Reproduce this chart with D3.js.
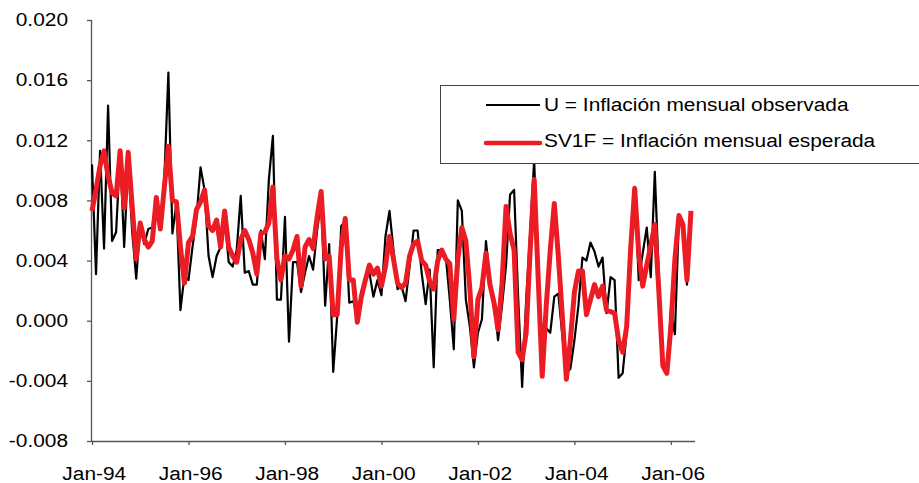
<!DOCTYPE html>
<html>
<head>
<meta charset="utf-8">
<script src="https://cdn.jsdelivr.net/npm/d3@7"></script>
<style>
  body { margin: 0; background: #fff; }
  svg { display: block; font-family: Arial, "Liberation Sans", sans-serif; }
</style>
</head>
<body>
<div id="chart-container"></div>
<script>
// monthly inflation, Jan-94 .. Jun-06
const observed = [
  0.0104, 0.0031, 0.0113, 0.0048, 0.0143, 0.0053, 0.0059, 0.0112, 0.0049, 0.0105, 0.0059, 0.0028,
  0.0065, 0.0051, 0.0061, 0.0062, 0.0080, 0.0063, 0.0095, 0.0165, 0.0058, 0.0078, 0.0007, 0.0030,
  0.0027, 0.0049, 0.0069, 0.0102, 0.0087, 0.0043, 0.0029, 0.0043, 0.0049, 0.0069, 0.0039, 0.0036,
  0.0047, 0.0083, 0.0032, 0.0033, 0.0024, 0.0024, 0.0060, 0.0041, 0.0094, 0.0123, 0.0014, 0.0014,
  0.0069, -0.0014, 0.0039, 0.0039, 0.0019, 0.0032, 0.0043, 0.0034, 0.0060, 0.0080, 0.0010, 0.0051,
  -0.0034, 0.0003, 0.0063, 0.0066, 0.0012, 0.0013, 0.0003, 0.0019, 0.0029, 0.0032, 0.0016, 0.0027,
  0.0017, 0.0056, 0.0073, 0.0047, 0.0021, 0.0023, 0.0013, 0.0036, 0.0060, 0.0060, 0.0032, 0.0011,
  0.0034, -0.0031, 0.0047, 0.0047, 0.0043, 0.0014, -0.0019, 0.0080, 0.0073, 0.0014, -0.0004, -0.0031,
  -0.0008, 0.0001, 0.0053, 0.0027, 0.0014, -0.0013, 0.0010, 0.0037, 0.0084, 0.0087, 0.0016, -0.0044,
  0.0014, 0.0059, 0.0107, 0.0020, -0.0030, -0.0005, -0.0008, 0.0016, 0.0018, -0.0010, -0.0035, -0.0032,
  -0.0013, 0.0010, 0.0042, 0.0040, 0.0052, 0.0046, 0.0036, 0.0042, 0.0005, 0.0029, 0.0027, -0.0038,
  -0.0035, -0.0008, 0.0041, 0.0089, 0.0027, 0.0045, 0.0062, 0.0029, 0.0099, 0.0030, -0.0025, -0.0035,
  0.0007, -0.0009, 0.0069, 0.0063, 0.0024, 0.0072
];

const expected = [
  0.0073, 0.0087, 0.0103, 0.0113, 0.0096, 0.0085, 0.0083, 0.0113, 0.0075, 0.0112, 0.0076, 0.0041,
  0.0065, 0.0054, 0.0049, 0.0053, 0.0082, 0.0061, 0.0089, 0.0116, 0.0080, 0.0079, 0.0049, 0.0025,
  0.0052, 0.0056, 0.0074, 0.0079, 0.0087, 0.0063, 0.0060, 0.0067, 0.0049, 0.0073, 0.0049, 0.0043,
  0.0039, 0.0054, 0.0060, 0.0054, 0.0045, 0.0031, 0.0058, 0.0059, 0.0065, 0.0089, 0.0041, 0.0027,
  0.0043, 0.0041, 0.0047, 0.0056, 0.0023, 0.0049, 0.0054, 0.0048, 0.0069, 0.0086, 0.0041, 0.0043,
  0.0004, 0.0004, 0.0049, 0.0068, 0.0027, 0.0027, -0.0001, 0.0016, 0.0027, 0.0037, 0.0031, 0.0035,
  0.0023, 0.0036, 0.0056, 0.0041, 0.0025, 0.0022, 0.0025, 0.0043, 0.0051, 0.0053, 0.0040, 0.0037,
  0.0026, 0.0021, 0.0040, 0.0047, 0.0041, 0.0038, 0.0001, 0.0041, 0.0062, 0.0053, 0.0021, -0.0024,
  0.0014, 0.0022, 0.0045, 0.0024, 0.0012, -0.0006, 0.0025, 0.0076, 0.0058, 0.0047, -0.0021, -0.0026,
  -0.0008, 0.0047, 0.0094, 0.0028, -0.0037, 0.0010, 0.0047, 0.0078, 0.0043, 0.0003, -0.0039, -0.0013,
  0.0019, 0.0033, 0.0033, 0.0004, 0.0014, 0.0024, 0.0016, 0.0023, 0.0007, 0.0006, 0.0005, -0.0013,
  -0.0021, -0.0004, 0.0048, 0.0088, 0.0045, 0.0023, 0.0037, 0.0050, 0.0064, 0.0020, -0.0030, -0.0035,
  -0.0004, 0.0041, 0.0070, 0.0064, 0.0027, 0.0073
];

const xTickLabels = ["Jan-94", "Jan-96", "Jan-98", "Jan-00", "Jan-02", "Jan-04", "Jan-06"];
const yTicks = [-0.008, -0.004, 0.000, 0.004, 0.008, 0.012, 0.016, 0.020];
const seriesNames = ["U = Inflación mensual observada", "SV1F = Inflación mensual esperada"];

const conf = {
  width: 919,
  height: 483,
  left: 92,
  right: 695,
  top: 20,
  bottom: 441,
  axisColor: "#555",
  fontSize: 18,
  stretch: 1.16, // the original text is a bit wider than Arial
  colors: ["#000000", "#ec1c24"],
  strokes: [2.2, 5]
};

const svg = d3.select("#chart-container")
  .append("svg")
  .attr("width", conf.width)
  .attr("height", conf.height);

const x = d3.scaleLinear()
  .domain([0, 150])
  .range([conf.left, conf.right]);

const y = d3.scaleLinear()
  .domain([-0.008, 0.020])
  .range([conf.bottom, conf.top]);

const fmt = d => d3.format(".3f")(d).replace("\u2212", "-");

// y axis
const yAxis = svg.append("g")
  .attr("transform", `translate(${conf.left},0)`)
  .call(d3.axisLeft(y).tickValues(yTicks).tickFormat(fmt).tickSize(5).tickPadding(15.7));

// x axis
const xAxis = svg.append("g")
  .attr("transform", `translate(0,${conf.bottom})`)
  .call(d3.axisBottom(x)
    .tickValues(xTickLabels.map((d, i) => i * 24))
    .tickFormat((d, i) => xTickLabels[i])
    .tickSize(4)
    .tickPadding(22));

[xAxis, yAxis].forEach(ax => {
  ax.select(".domain").attr("stroke", conf.axisColor).attr("stroke-width", 1.3);
  ax.selectAll(".tick line").attr("stroke", conf.axisColor).attr("stroke-width", 1.3);
  ax.selectAll(".tick text")
    .attr("fill", "#000")
    .attr("transform", `scale(${conf.stretch},1)`)
    .style("font-size", conf.fontSize + "px")
    .style("font-family", "Arial, 'Liberation Sans', sans-serif");
});
xAxis.selectAll(".tick text").attr("dx", 1.5);
xAxis.select(".domain").attr("d", `M${conf.left},0.5H${conf.right}`);
yAxis.select(".domain").attr("d", `M-0.5,${conf.top}V${conf.bottom}`);

const line = d3.line()
  .x((d, i) => x(i))
  .y(d => y(d));

[observed, expected].forEach((values, k) => {
  svg.append("path")
    .datum(values)
    .attr("fill", "none")
    .attr("stroke", conf.colors[k])
    .attr("stroke-width", conf.strokes[k])
    .attr("stroke-linejoin", "round")
    .attr("d", line);
});

// legend
const legend = svg.append("g").attr("transform", "translate(440,85)");
legend.append("rect")
  .attr("x", 0.5)
  .attr("y", 0.5)
  .attr("width", 490)
  .attr("height", 78)
  .attr("fill", "#fff")
  .attr("stroke", "#444")
  .attr("stroke-width", 1);

seriesNames.forEach((name, k) => {
  const ly = 20 + k * 38;
  legend.append("line")
    .attr("x1", 46).attr("x2", 100)
    .attr("y1", ly).attr("y2", ly)
    .attr("stroke", conf.colors[k])
    .attr("stroke-width", k ? 4.5 : 2.2)
    .attr("stroke-linecap", k ? "round" : "butt");
  legend.append("text")
    .attr("transform", `translate(104,${25.7 + k * 36.6}) scale(${conf.stretch},1)`)
    .style("font-size", conf.fontSize + "px")
    .text(name);
});
</script>
</body>
</html>
